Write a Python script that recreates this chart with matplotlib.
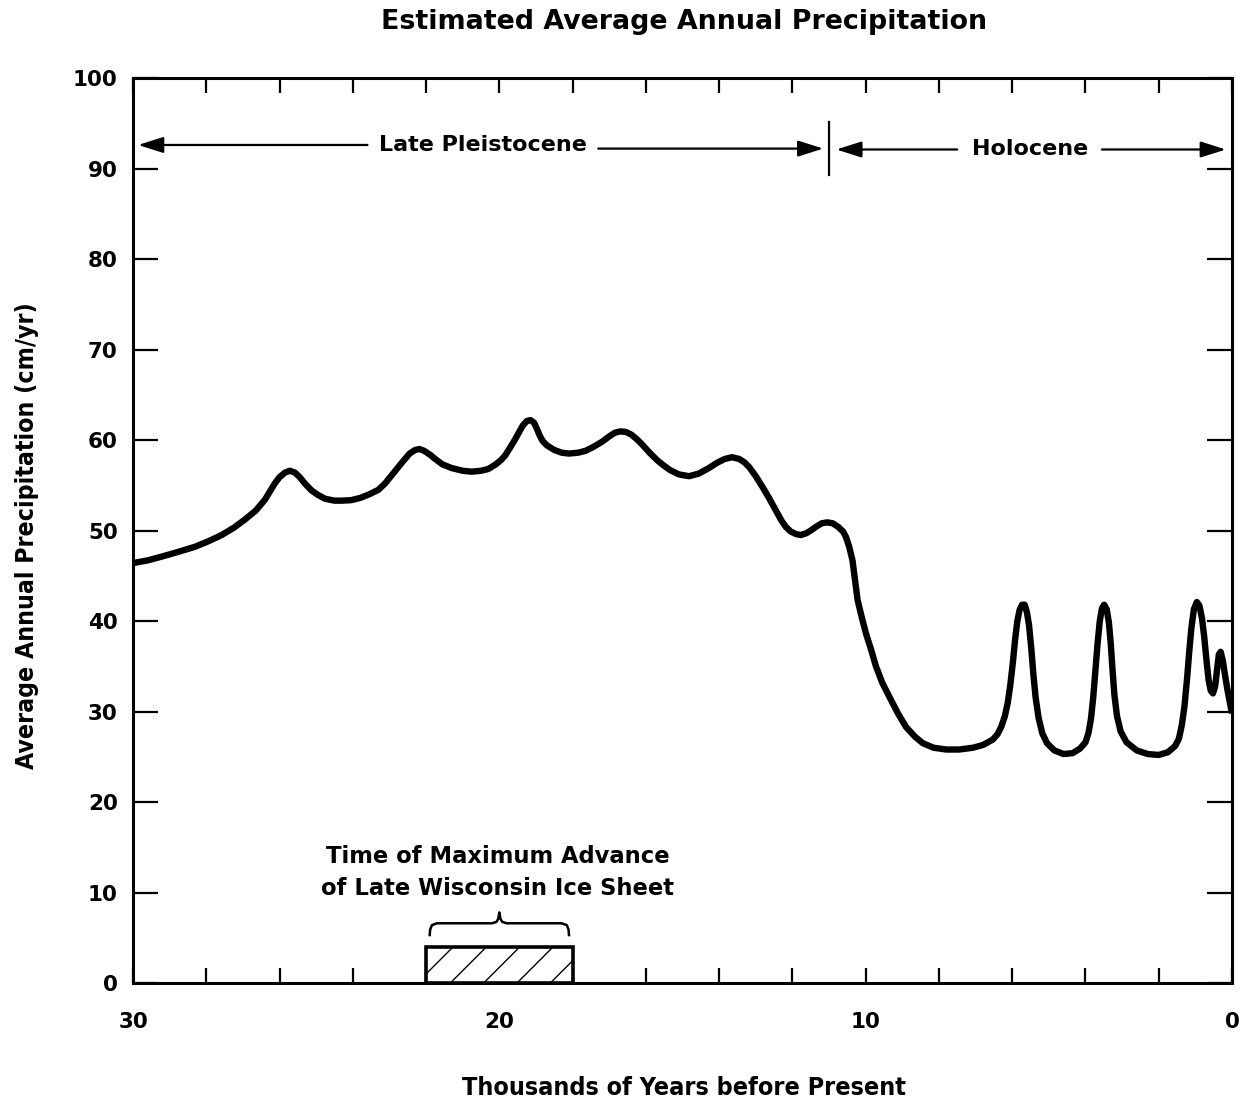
import matplotlib
matplotlib.use("Agg")
import matplotlib.pyplot as plt
from matplotlib.ticker import MultipleLocator, FuncFormatter

# ---- data ----
years_bp = [
    30.0, 29.6, 29.23, 28.8, 28.31, 27.95, 27.58, 27.25, 26.95, 26.65,
    26.4, 26.25, 26.13, 26.0, 25.85, 25.72, 25.58, 25.45, 25.31, 25.12,
    24.94, 24.75, 24.5, 24.3, 24.05, 23.8, 23.55, 23.3, 23.12, 22.9,
    22.66, 22.45, 22.3, 22.18, 22.05, 21.9, 21.75, 21.55, 21.3, 21.0,
    20.75, 20.5, 20.3, 20.1, 19.95, 19.84, 19.7, 19.58, 19.47, 19.36,
    19.25, 19.15, 19.05, 18.97, 18.9, 18.82, 18.7, 18.5, 18.3, 18.1,
    17.85, 17.65, 17.45, 17.2, 17.0, 16.85, 16.7, 16.55, 16.4, 16.25,
    16.1, 15.9, 15.7, 15.55, 15.35, 15.1, 14.82, 14.55, 14.28, 14.05,
    13.85, 13.65, 13.45, 13.3, 13.18, 13.0, 12.8, 12.64, 12.45, 12.3,
    12.18, 12.05, 11.9, 11.77, 11.62, 11.5, 11.36, 11.2, 11.05, 10.9,
    10.75, 10.62, 10.54, 10.45, 10.36, 10.29, 10.22, 10.10, 9.99, 9.85,
    9.72, 9.55, 9.35, 9.12, 8.90, 8.65, 8.44, 8.15, 7.80, 7.45,
    7.07, 6.80, 6.53, 6.40, 6.30, 6.20, 6.12, 6.05, 5.98, 5.92,
    5.86, 5.80, 5.73, 5.66, 5.60, 5.54, 5.48, 5.42, 5.36, 5.28,
    5.18, 5.05, 4.85, 4.6, 4.35, 4.15, 4.0, 3.92, 3.85, 3.79,
    3.73, 3.67, 3.61, 3.55, 3.49, 3.42, 3.36, 3.31, 3.26, 3.21,
    3.14, 3.04, 2.88, 2.6, 2.3, 2.0, 1.75, 1.55, 1.45, 1.37,
    1.30, 1.23, 1.17, 1.11, 1.04, 0.96, 0.89, 0.82, 0.76, 0.70,
    0.64, 0.58, 0.52, 0.46, 0.41, 0.36, 0.31, 0.25, 0.19, 0.12,
    0.05, 0.0]
precip_cm = [
    46.4, 46.7, 47.1, 47.6, 48.2, 48.8, 49.5, 50.3, 51.2, 52.2,
    53.4, 54.4, 55.2, 55.9, 56.4, 56.6, 56.4, 55.9, 55.2, 54.4,
    53.9, 53.5, 53.3, 53.3, 53.35, 53.6, 54.0, 54.5, 55.2, 56.3,
    57.5, 58.5, 58.9, 59.0, 58.8, 58.4, 57.9, 57.3, 56.9, 56.6,
    56.5, 56.6, 56.8, 57.3, 57.8, 58.3, 59.2, 60.0, 60.8, 61.6,
    62.1, 62.2, 61.9, 61.2, 60.5, 59.9, 59.4, 58.9, 58.6, 58.5,
    58.6, 58.8, 59.2, 59.8, 60.4, 60.8, 60.95, 60.9, 60.6, 60.1,
    59.5, 58.6, 57.8, 57.3, 56.7, 56.2, 56.0, 56.3, 56.9, 57.5,
    57.9, 58.1, 57.9, 57.5, 57.0, 56.0, 54.7, 53.6, 52.2, 51.1,
    50.4, 49.9, 49.6, 49.5, 49.7, 50.0, 50.4, 50.8, 50.9, 50.8,
    50.4, 49.9, 49.3, 48.2, 46.7, 44.5, 42.3, 40.3, 38.6, 36.8,
    35.0, 33.2, 31.6, 29.8, 28.3, 27.2, 26.5, 26.0, 25.8, 25.8,
    26.0, 26.3, 26.9, 27.5, 28.3, 29.5, 31.0, 33.0, 35.5, 38.0,
    40.0, 41.2, 41.8, 41.8, 41.0, 39.5, 37.0, 34.0, 31.5, 29.3,
    27.6, 26.5, 25.7, 25.3, 25.4, 25.9, 26.6, 27.6, 29.2, 31.5,
    34.5, 37.5, 40.0, 41.4, 41.8, 41.3, 39.8, 37.5, 34.5, 31.8,
    29.5, 27.8, 26.6, 25.7, 25.3, 25.2, 25.5, 26.2, 27.0, 28.5,
    30.5, 33.5, 36.5, 39.2, 41.3, 42.1, 41.7, 40.3, 38.3, 35.8,
    33.5, 32.3, 32.0, 32.8, 34.6, 36.3, 36.6, 35.6, 34.0, 32.3,
    30.8, 29.8]

x_label_values = [30, 20, 10, 0]
x_ticklabels = ["30", "20", "10", "0"]
y_ticks = [0, 10, 20, 30, 40, 50, 60, 70, 80, 90, 100]

ice_start, ice_end, ice_height = 22.0, 18.0, 4.0
pleistocene_holocene_boundary = 11.0

title = "Estimated Average Annual Precipitation"
xlabel = "Thousands of Years before Present"
ylabel = "Average Annual Precipitation (cm/yr)"
ice_label = "Time of Maximum Advance\nof Late Wisconsin Ice Sheet"

plt.rcParams["hatch.linewidth"] = 1.0

# ---- figure ----
fig = plt.figure(figsize=(12.49, 11.08), dpi=100)
ax = fig.add_axes([0.1065, 0.1128, 0.8799, 0.8168])

ax.plot(years_bp, precip_cm, color="black", lw=4.6, solid_capstyle="butt",
        solid_joinstyle="round", zorder=3)

ax.set_xlim(30, 0)
ax.set_ylim(0, 100)

for s in ax.spines.values():
    s.set_linewidth(2.2)


def fmt_x(v, pos):
    iv = int(round(v))
    if abs(v - iv) < 1e-6 and iv in x_label_values:
        return x_ticklabels[x_label_values.index(iv)]
    return ""


ax.xaxis.set_major_locator(MultipleLocator(2))
ax.xaxis.set_major_formatter(FuncFormatter(fmt_x))
ax.set_yticks(y_ticks)
ax.tick_params(axis="x", direction="in", length=11, width=1.6, top=True,
               bottom=True, pad=21, labelsize=15.5)
ax.tick_params(axis="y", direction="in", length=18, width=1.6, left=True,
               right=True, pad=11, labelsize=15.5)
for lab in ax.get_xticklabels() + ax.get_yticklabels():
    lab.set_fontweight("bold")
    lab.set_family("DejaVu Sans")

# ice sheet bar
ax.bar([(ice_start + ice_end) / 2], [ice_height], width=ice_start - ice_end,
       facecolor="white", edgecolor="black", linewidth=2.6, hatch="/",
       zorder=2)

# brace above bar
bx0, bx1 = ice_start - 0.1, ice_end + 0.1
bm = (ice_start + ice_end) / 2
ax.plot([bx0, bx0 - 0.01, bx0 - 0.06, bx0 - 0.2,
         bm + 0.2, bm + 0.08, bm + 0.03, bm,
         bm - 0.03, bm - 0.08, bm - 0.2,
         bx1 + 0.2, bx1 + 0.06, bx1 + 0.01, bx1],
        [5.3, 5.9, 6.4, 6.6,
         6.6, 6.75, 7.1, 7.8,
         7.1, 6.75, 6.6,
         6.6, 6.4, 5.9, 5.3],
        color="black", lw=1.8, zorder=3, solid_joinstyle="round")

ax.text(bm + 0.05, 12.2, ice_label, ha="center", va="center", fontsize=16.3,
        fontweight="bold", family="DejaVu Sans", linespacing=1.5)

# period arrows
arrow_kw = dict(arrowstyle="-|>,head_length=1.1,head_width=0.35", color="black",
                lw=1.6, shrinkA=0, shrinkB=0, mutation_scale=14)
ax.annotate("", xy=(29.86, 92.6), xytext=(23.6, 92.6), arrowprops=arrow_kw)
ax.annotate("", xy=(11.16, 92.2), xytext=(17.3, 92.2), arrowprops=arrow_kw)
ax.annotate("", xy=(10.8, 92.1), xytext=(7.5, 92.1), arrowprops=arrow_kw)
ax.annotate("", xy=(0.17, 92.1), xytext=(3.55, 92.1), arrowprops=arrow_kw)
ax.plot([pleistocene_holocene_boundary] * 2, [89.3, 95.1], color="black", lw=1.6)
ax.text(20.45, 92.6, "Late Pleistocene", ha="center", va="center",
        fontsize=16, fontweight="bold", family="DejaVu Sans")
ax.text(5.5, 92.1, "Holocene", ha="center", va="center",
        fontsize=16, fontweight="bold", family="DejaVu Sans")

fig.text(0.548, 0.980, title, ha="center", va="center", fontsize=19.4,
         fontweight="bold", family="DejaVu Sans")
fig.text(0.548, 0.018, xlabel, ha="center", va="center", fontsize=18.0,
         fontweight="bold", family="DejaVu Sans", fontstretch="condensed")
fig.text(0.0216, 0.517, ylabel, ha="center", va="center", fontsize=17.8,
         rotation=90, fontweight="bold", family="DejaVu Sans",
         fontstretch="condensed")

fig.savefig("out.png", dpi=100, facecolor="white")
